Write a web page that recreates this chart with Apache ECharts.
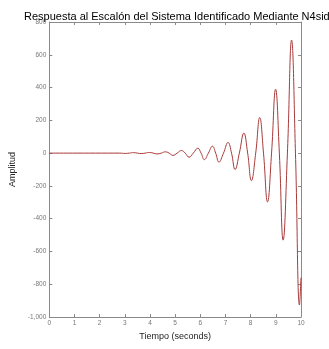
<!DOCTYPE html>
<html>
<head>
<meta charset="utf-8">
<script src="https://cdn.jsdelivr.net/npm/echarts@6/dist/echarts.min.js"></script>
<style>
  html, body { margin: 0; padding: 0; background: #fff; }
  #chart { width: 329px; height: 349px; }
</style>
</head>
<body>
<div id="chart"></div>
<script>
// Step response of the N4SID-identified model: time (s) and amplitude
const tiempo = [0, 2.8, 3.02, 3.18, 3.35, 3.5, 3.65, 3.81, 3.98, 4.13, 4.28, 4.45, 4.61, 4.76,
  4.91, 5.08, 5.25, 5.4, 5.55, 5.72, 5.9, 6.03, 6.16, 6.32, 6.48, 6.61, 6.74, 6.92, 7.1, 7.24,
  7.38, 7.55, 7.73, 7.88, 8.03, 8.2, 8.36, 8.51, 8.67, 8.83, 8.99, 9.14, 9.29, 9.46, 9.625,
  9.78, 9.94, 10];
const amplitud = [0, 0, -2, 0, 3, 0, -3, 0, 4, 0, -5, 0, 8, 0,
  -14, 0, 16, 0, -25, 0, 30, 0, -40, 0, 42, 0, -55, 0, 65, 0,
  -100, 0, 122, 0, -168, 0, 217, 0, -298, 0, 390, 0, -531, 0, 690,
  0, -927, -760];

const xTicks = [0, 10, 1];
const yTicks = [-1000, 800, 200];

const chart = echarts.init(document.getElementById('chart'));
const gris = '#8a8a8a';
const fuente = 'Liberation Sans, Arial, sans-serif';

const baseAxis = {
  axisLine: { show: true, onZero: false, lineStyle: { color: gris, width: 1 } },
  axisTick: { show: true, inside: true, length: 3, lineStyle: { color: gris } },
  splitLine: { show: false }
};

chart.setOption({
  animation: false,
  title: {
    text: 'Respuesta al Escalón del Sistema Identificado Mediante N4sid',
    left: 19, top: 6,
    textStyle: { fontFamily: fuente, fontSize: 11, fontWeight: 'normal', color: '#000' }
  },
  grid: { left: 43, right: 28, top: 22, bottom: 32 },
  xAxis: [
    Object.assign({}, baseAxis, {
      type: 'value', min: xTicks[0], max: xTicks[1], interval: xTicks[2],
      name: 'Tiempo (seconds)', nameLocation: 'middle', nameGap: 13,
      nameTextStyle: { fontFamily: fuente, fontSize: 9, color: '#222' },
      axisLabel: { fontFamily: fuente, fontSize: 6.5, color: '#777', margin: 3 }
    }),
    Object.assign({}, baseAxis, {
      type: 'value', position: 'top', min: xTicks[0], max: xTicks[1], interval: xTicks[2],
      axisLabel: { show: false }
    })
  ],
  yAxis: [
    Object.assign({}, baseAxis, {
      type: 'value', min: yTicks[0], max: yTicks[1], interval: yTicks[2],
      name: 'Amplitud', nameLocation: 'middle', nameGap: 23,
      nameTextStyle: { fontFamily: fuente, fontSize: 9, color: '#222' },
      axisLabel: { fontFamily: fuente, fontSize: 6.5, color: '#777', margin: 3 }
    }),
    Object.assign({}, baseAxis, {
      type: 'value', position: 'right', min: yTicks[0], max: yTicks[1], interval: yTicks[2],
      axisLabel: { show: false }
    })
  ],
  series: [{
    type: 'line',
    data: tiempo.map((t, i) => [t, amplitud[i]]),
    smooth: 0.45,
    showSymbol: false,
    lineStyle: { color: '#a83a3a', width: 1 }
  }]
});
</script>
</body>
</html>
